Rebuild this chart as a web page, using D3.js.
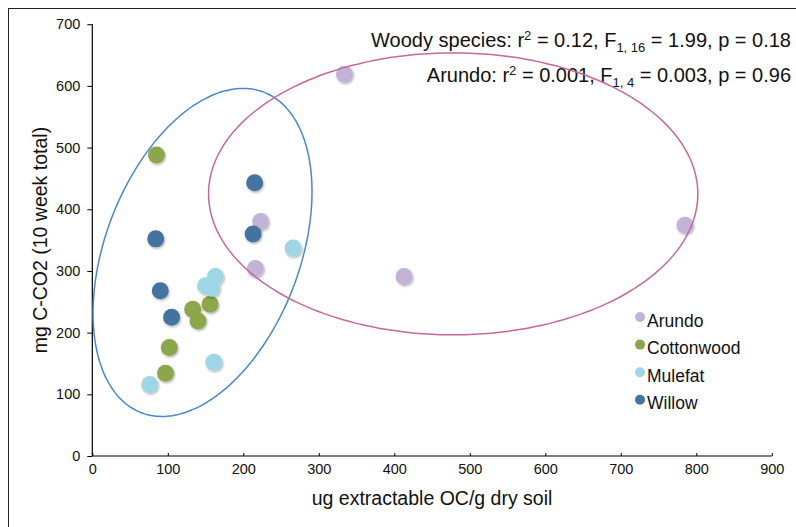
<!DOCTYPE html>
<html>
<head>
<meta charset="utf-8">
<script src="https://cdn.jsdelivr.net/npm/d3@7"></script>
<style>
  html, body { margin: 0; padding: 0; background: #fff; }
  svg { display: block; font-family: "Liberation Sans", Arial, Helvetica, sans-serif; }
</style>
</head>
<body>
<svg id="chart" width="796" height="527"></svg>
<script>
// ---- data ----
const seriesNames = ["Arundo", "Cottonwood", "Mulefat", "Willow"];
const arundoX = [334, 223, 216, 413, 785];
const arundoY = [619, 380, 304, 291, 374];
const cottonwoodX = [85, 156, 133, 140, 102, 97];
const cottonwoodY = [488, 246, 238, 219, 176, 134];
const mulefatX = [266, 163, 150, 158, 161, 76];
const mulefatY = [337, 291, 276, 272, 152, 116];
const willowX = [215, 213, 84, 90, 105];
const willowY = [443, 360, 352, 268, 225];
const xTicks = [0, 100, 200, 300, 400, 500, 600, 700, 800, 900];
const yTicks = [0, 100, 200, 300, 400, 500, 600, 700];
const xTitle = "ug extractable OC/g dry soil";
const yTitle = "mg C-CO2 (10 week total)";
// grouping ellipses (data units): centre and two conjugate semi-diameters
const woodyEllipse = { cx: 146, cy: 330, ux: 145, uy: 98.5, vx: 0, vy: 247 };
const arundoEllipse = { cx: 478, cy: 425, ux: 324, uy: 0, vx: 0, vy: 228.5 };

const colors = { Arundo: "#c2b3d6", Cottonwood: "#8ba64c", Mulefat: "#9fd6e5", Willow: "#44739f" };

const series = [
  { name: "Arundo", xs: arundoX, ys: arundoY },
  { name: "Cottonwood", xs: cottonwoodX, ys: cottonwoodY },
  { name: "Mulefat", xs: mulefatX, ys: mulefatY },
  { name: "Willow", xs: willowX, ys: willowY }
];

const svg = d3.select("#chart");
const x = d3.scaleLinear().domain([0, 900]).range([92.3, 771.8]);
const y = d3.scaleLinear().domain([0, 700]).range([456, 24.2]);

// frame
svg.append("rect").attr("x", 8.5).attr("y", 8.5).attr("width", 1000).attr("height", 1000)
  .attr("fill", "none").attr("stroke", "#222").attr("stroke-width", 1);

const defs = svg.append("defs");
const f = defs.append("filter").attr("id", "shadow").attr("x", "-50%").attr("y", "-50%").attr("width", "200%").attr("height", "200%");
f.append("feDropShadow").attr("dx", 1).attr("dy", 1.5).attr("stdDeviation", 1.2)
  .attr("flood-color", "#000").attr("flood-opacity", 0.3);

// axes
const xAxis = d3.axisBottom(x).tickValues(xTicks).tickSize(-3).tickPadding(8).tickFormat(d3.format("d"));
const gx = svg.append("g").attr("transform", `translate(0,${y(0)})`).call(xAxis);
const yAxis = d3.axisLeft(y).tickValues(yTicks).tickSize(5).tickPadding(7).tickFormat(d3.format("d"));
const gy = svg.append("g").attr("transform", `translate(${x(0)},0)`).call(yAxis);
[gx, gy].forEach(g => {
  g.select(".domain").attr("stroke", "#000").attr("stroke-width", 1.2);
  g.selectAll(".tick line").attr("stroke", "#000").attr("stroke-width", 1);
  g.selectAll(".tick text").attr("font-size", 14.5).attr("fill", "#111")
    .attr("font-family", "'Liberation Sans', Arial, sans-serif");
});
gx.select(".domain").attr("d", `M${x(0)},0H${x(900)}`);
gy.select(".domain").attr("d", `M0,${y(700)}V${y(0)}`);

svg.append("text").attr("x", (x(0) + x(900)) / 2).attr("y", 505)
  .attr("text-anchor", "middle").attr("font-size", 19.5).attr("fill", "#111").text(xTitle);
svg.append("text").attr("transform", `translate(47,${(y(0) + y(700)) / 2}) rotate(-90)`)
  .attr("text-anchor", "middle").attr("font-size", 19.5).attr("fill", "#111").text(yTitle);

// points
series.forEach(s => {
  svg.append("g").attr("filter", "url(#shadow)")
    .selectAll("circle").data(s.xs.map((v, i) => [v, s.ys[i]])).join("circle")
    .attr("cx", d => x(d[0])).attr("cy", d => y(d[1])).attr("r", 8.5)
    .attr("fill", colors[s.name]);
});

// legend
const lg = svg.append("g");
seriesNames.forEach((n, i) => {
  const yy = 320 + i * 27.6;
  lg.append("circle").attr("cx", 640).attr("cy", yy - 3).attr("r", 5).attr("fill", colors[n]);
  lg.append("text").attr("x", 647).attr("y", yy + 6.5).attr("font-size", 17.5).attr("fill", "#111").text(n);
});

// annotations
function stat(yBase, label, r2, df2, F, p) {
  const t = svg.append("text").attr("x", 791).attr("y", yBase).attr("text-anchor", "end")
    .attr("font-size", 20).attr("fill", "#111");
  t.append("tspan").text(label + ": r");
  t.append("tspan").attr("font-size", 13).attr("dy", -7).text("2");
  t.append("tspan").attr("dy", 7).text(" = " + r2 + ", F");
  t.append("tspan").attr("font-size", 13).attr("dy", 5).text("1, " + df2);
  t.append("tspan").attr("dy", -5).text(" = " + F + ", p = " + p);
}
stat(47, "Woody species", "0.12", "16", "1.99", "0.18");
stat(82, "Arundo", "0.001", "4", "0.003", "0.96");

// ellipses
function ellipsePath(e) {
  const pts = d3.range(0, 361, 2).map(a => {
    const t = a * Math.PI / 180;
    return [x(e.cx + e.ux * Math.cos(t) + e.vx * Math.sin(t)), y(e.cy + e.uy * Math.cos(t) + e.vy * Math.sin(t))];
  });
  return d3.line().curve(d3.curveCardinalClosed)(pts.slice(0, -1));
}
svg.append("path").attr("d", ellipsePath(woodyEllipse)).attr("fill", "none")
  .attr("stroke", "#4a87cb").attr("stroke-width", 1.5);
svg.append("path").attr("d", ellipsePath(arundoEllipse)).attr("fill", "none")
  .attr("stroke", "#c5689c").attr("stroke-width", 1.5);
</script>
</body>
</html>
